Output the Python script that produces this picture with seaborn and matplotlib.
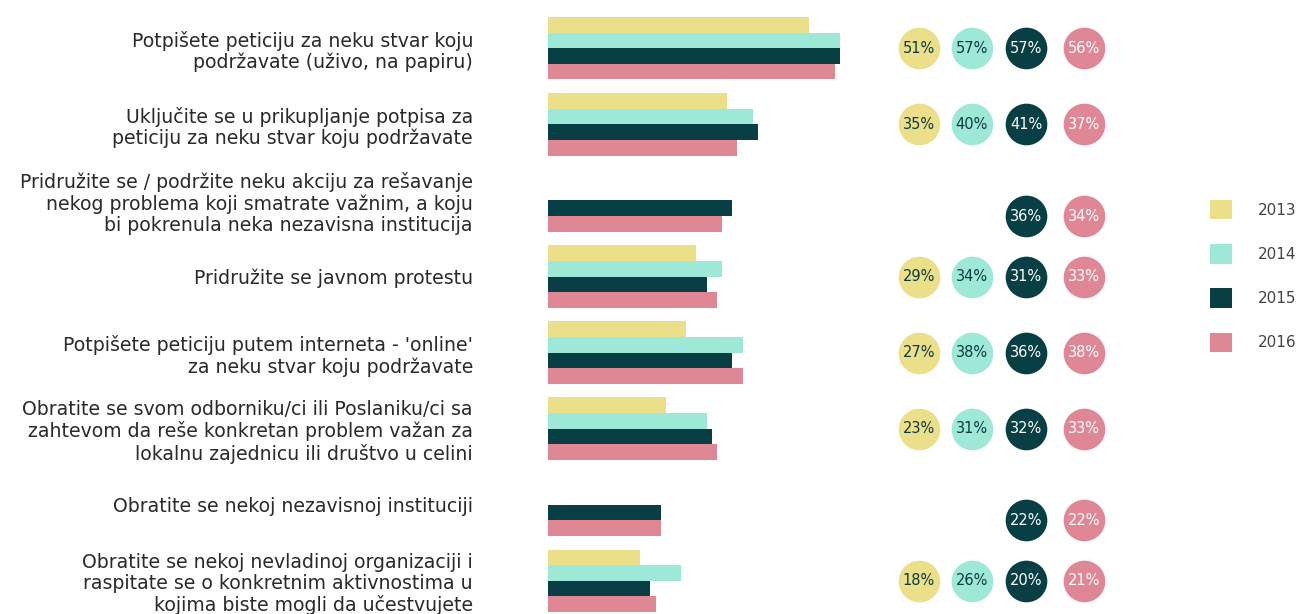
import numpy as np
import pandas as pd
import matplotlib
matplotlib.use('Agg')
import matplotlib.pyplot as plt
import matplotlib.transforms as mtransforms
import seaborn as sns

# data
kategorije = [
    'Potpišete peticiju za neku stvar koju\npodržavate (uživo, na papiru)',
    'Uključite se u prikupljanje potpisa za\npeticiju za neku stvar koju podržavate',
    'Pridružite se / podržite neku akciju za rešavanje\nnekog problema koji smatrate važnim, a koju\nbi pokrenula neka nezavisna institucija',
    'Pridružite se javnom protestu',
    "Potpišete peticiju putem interneta - 'online'\nza neku stvar koju podržavate",
    'Obratite se svom odborniku/ci ili Poslaniku/ci sa\nzahtevom da reše konkretan problem važan za\nlokalnu zajednicu ili društvo u celini',
    'Obratite se nekoj nezavisnoj instituciji',
    'Obratite se nekoj nevladinoj organizaciji i\nraspitate se o konkretnim aktivnostima u\nkojima biste mogli da učestvujete',
]
godine = ['2013', '2014', '2015', '2016']
v2013 = [51, 35, np.nan, 29, 27, 23, np.nan, 18]
v2014 = [57, 40, np.nan, 34, 38, 31, np.nan, 26]
v2015 = [57, 41, 36, 31, 36, 32, 22, 20]
v2016 = [56, 37, 34, 33, 38, 33, 22, 21]

boje = ['#EBDF8A', '#9EE8D8', '#073F44', '#DF8794']
tekst_boje = ['#0B3B40', '#0B3B40', 'white', 'white']

rows = []
for g, vals in zip(godine, [v2013, v2014, v2015, v2016]):
    for k, v in zip(kategorije, vals):
        rows.append({'kategorija': k, 'godina': g, 'procenat': v})
df = pd.DataFrame(rows)

plt.rcParams['font.family'] = ['DejaVu Sans']

W, H = 1301, 614
fig = plt.figure(figsize=(W / 100, H / 100), dpi=100)
step = 76.07
top = 48.3 - step / 2
ax = fig.add_axes([548 / W, 1 - (top + 8 * step) / H, (W - 548) / W, 8 * step / H])

bw = 0.82
sns.barplot(data=df.dropna(), y='kategorija', x='procenat', hue='godina',
            order=kategorije, hue_order=godine, palette=boje, saturation=1,
            orient='h', width=bw, ax=ax)

ax.set_xlim(0, (W - 548) / 5.12)
ax.set_ylim(7.5, -0.5)
ax.set_xlabel('')
ax.set_ylabel('')
ax.set_xticks([])
for s in ax.spines.values():
    s.set_visible(False)
ax.tick_params(axis='y', length=0, pad=54)
for t in ax.get_yticklabels():
    t.set_fontsize(13.6)
    t.set_color('#2A2A2A')
    t.set_multialignment('right')
    t.set_linespacing(1.15)

# circles with the percentages
kol_x = [(919 - 548) / (W - 548), (972 - 548) / (W - 548),
         (1026 - 548) / (W - 548), (1084 - 548) / (W - 548)]
trans = mtransforms.blended_transform_factory(ax.transAxes, ax.transData)
slot = bw / 4
offs = [(-1.5 + j) * slot for j in range(4)]
for i in range(len(kategorije)):
    vals = [v2013[i], v2014[i], v2015[i], v2016[i]]
    prisutni = [j for j in range(4) if not np.isnan(vals[j])]
    yc = i + np.mean([offs[j] for j in prisutni])
    for j in prisutni:
        ax.scatter([kol_x[j]], [yc], s=900, color=boje[j], transform=trans,
                   linewidths=0, clip_on=False, zorder=3)
        ax.text(kol_x[j], yc, f'{int(vals[j])}%', transform=trans, ha='center',
                va='center', fontsize=10.5, color=tekst_boje[j], zorder=4)

sns.move_legend(ax, 'center left', bbox_to_anchor=(1210 / W, 1 - 276 / H),
                bbox_transform=fig.transFigure, frameon=False, title=None,
                fontsize=11, handlelength=1.44, handleheight=1.57,
                labelspacing=1.63, handletextpad=1.7, borderpad=0, borderaxespad=0)
for t in ax.get_legend().get_texts():
    t.set_color('#444444')

fig.savefig('out.png', dpi=100)
